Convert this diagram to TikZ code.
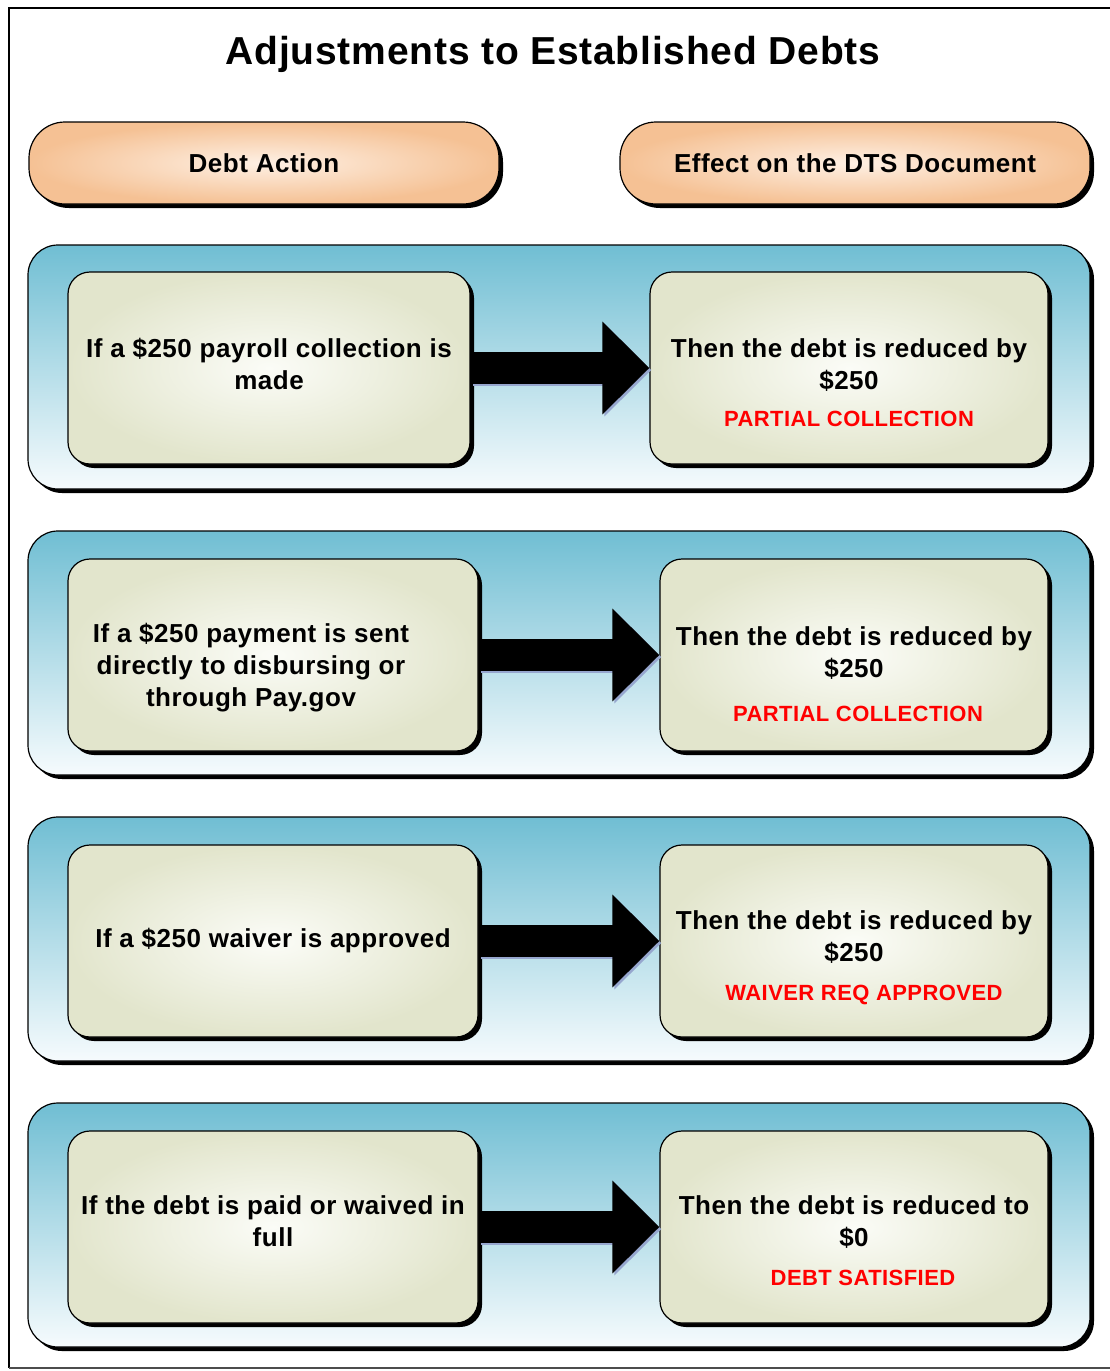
\documentclass[tikz,border=0pt]{standalone}
\usepackage{fontspec}
\setmainfont[LetterSpace=2]{Liberation Sans}
\usetikzlibrary{arrows.meta,shadows}

\definecolor{panelblue}{RGB}{112,190,211}
\definecolor{panelwhite}{RGB}{246,251,253}
\definecolor{boxgreen}{RGB}{226,229,204}
\definecolor{boxlight}{RGB}{251,252,247}
\definecolor{peach}{RGB}{245,193,148}
\definecolor{peachlight}{RGB}{254,240,228}
\definecolor{shadeblue}{RGB}{150,166,206}
\definecolor{alertred}{RGB}{255,0,0}

\newcommand{\statusline}[1]{{\color{alertred}\fontsize{22}{27}\selectfont #1}}
\newcommand{\padtop}[1]{\rule{0pt}{#1}}
\newcommand{\padbot}[1]{\rule[-#1]{0pt}{#1}}
\newcommand{\nudge}[1]{\rule{#1}{0pt}}

\begin{document}
\begin{tikzpicture}[x=1pt, y=-1pt,
    font=\bfseries\fontsize{26}{32}\selectfont,
    blockshadow/.style={drop shadow={shadow xshift=4pt, shadow yshift=-4pt, opacity=1, fill=black}},
    hdr/.style={rectangle, rounded corners=36pt, draw=black, line width=1.2pt,
                inner color=peachlight, outer color=peach,
                minimum width=470pt, minimum height=82pt, blockshadow},
    panel/.style={rectangle, rounded corners=30pt, draw=black, line width=1.2pt,
                  top color=panelblue, bottom color=panelwhite,
                  minimum width=1062pt, minimum height=244pt, blockshadow},
    stepbox/.style={rectangle, rounded corners=22pt, draw=black, line width=1.2pt,
                    inner color=boxlight, outer color=boxgreen,
                    minimum height=192pt, inner sep=0pt, align=center, blockshadow},
    bigarrow/.style={line width=32pt, -{Triangle[length=47pt, width=90pt]}},
    arrowshade/.style={bigarrow, draw=shadeblue, fill=shadeblue,
                       transform canvas={shift={(2pt,-2pt)}}}
   ]
\useasboundingbox (0,0) rectangle (1110,1371);

% frame and title
\draw[line width=2.5pt] (1110,8) -- (9,8) -- (9,1368);
\draw[line width=1.5pt, black!70] (9,1368) -- (1110,1368);
\node (title) at (553,54) {\fontsize{39}{48}\selectfont Adjustments to Established Debts};

\node[hdr] (hdrAct) at (264,163) {Debt Action};
\node[hdr] (hdrEff) at (855,163) {Effect on the DTS Document};

% the four rows
\node[panel] (row1) at (559,367) {};
\node[panel] (row2) at (559,653) {};
\node[panel] (row3) at (559,939) {};
\node[panel] (row4) at (559,1225) {};

\node[stepbox, minimum width=402pt] (act1) at (269,368)
    {If a \$250 payroll collection is\\made\padbot{8pt}};
\node[stepbox, minimum width=398pt] (eff1) at (849,368)
    {\padtop{49pt}Then the debt is reduced by\\\$250\\[5pt]\statusline{PARTIAL COLLECTION}};

\node[stepbox, minimum width=410pt] (act2) at (273,655)
    {\padtop{44pt}If a \$250 payment is sent\nudge{44pt}\\directly to disbursing or\nudge{44pt}\\through Pay.gov\nudge{44pt}};
\node[stepbox, minimum width=388pt] (eff2) at (854,655)
    {\padtop{57pt}Then the debt is reduced by\\\$250\\[12pt]\nudge{8pt}\statusline{PARTIAL COLLECTION}};

\node[stepbox, minimum width=410pt] (act3) at (273,941) {If a \$250 waiver is approved};
\node[stepbox, minimum width=388pt] (eff3) at (854,941)
    {\padtop{53pt}Then the debt is reduced by\\\$250\\[7pt]\nudge{20pt}\statusline{WAIVER REQ APPROVED}};

\node[stepbox, minimum width=410pt] (act4) at (273,1227)
    {If the debt is paid or waived in\\full\padbot{12pt}};
\node[stepbox, minimum width=388pt] (eff4) at (854,1227)
    {\padtop{47pt}Then the debt is reduced to\\\$0\\[7pt]\nudge{18pt}\statusline{DEBT SATISFIED}};

\foreach \i in {1,...,4}
{
    \draw[arrowshade] (act\i.east) -- (act\i.east -| eff\i.west);
    \draw[bigarrow] (act\i.east) -- (act\i.east -| eff\i.west);
}

\end{tikzpicture}
\end{document}
